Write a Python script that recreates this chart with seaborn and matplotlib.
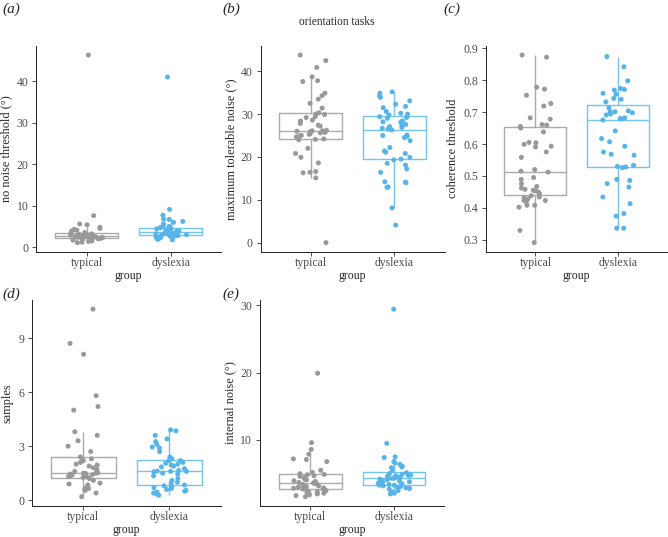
import numpy as np
import pandas as pd
import matplotlib
matplotlib.use("Agg")
import matplotlib.pyplot as plt
import seaborn as sns

groups = ["typical", "dyslexia"]

a_typical = [46.3, 7.6, 5.6, 5.4, 4.8, 4.5, 4.3, 4.1, 3.9, 3.5, 3.4, 3.3, 3.2, 3.1, 3.0, 2.95,
             2.9, 2.85, 2.8, 2.7, 2.7, 2.65, 2.6, 2.55, 2.5, 2.45, 2.4, 2.4, 2.35, 2.3, 2.3, 2.2,
             2.1, 2.0, 1.9, 1.7, 1.5, 1.4, 1.2, 1.1]
a_dyslexia = [41.0, 9.1, 7.7, 6.8, 6.7, 6.2, 6.0, 5.6, 5.1, 5.0, 4.75, 4.7, 4.5, 4.4, 4.3, 4.2,
              4.0, 3.9, 3.8, 3.7, 3.6, 3.6, 3.5, 3.4, 3.35, 3.3, 3.2, 3.1, 3.0, 2.95, 2.9, 2.85,
              2.8, 2.7, 2.6, 2.5, 2.4, 2.3, 2.2, 2.0, 1.9, 1.8]

b_typical = [43.8, 42.5, 40.9, 38.7, 37.8, 37.6, 34.9, 34.3, 33.5, 32.5, 31.4, 30.3, 30.0, 29.9,
             29.4, 29.2, 28.6, 28.4, 27.8, 27.4, 27.2, 26.2, 26.1, 26.1, 26.0, 25.9, 25.7, 25.6,
             25.4, 25.3, 25.0, 24.9, 24.7, 24.2, 24.1, 24.0, 22.0, 20.8, 19.9, 18.6, 16.6, 16.4,
             16.3, 15.1, 0.0]
b_dyslexia = [35.2, 34.9, 34.3, 33.9, 33.1, 32.3, 31.8, 31.5, 30.6, 30.2, 30.0, 29.8, 29.4, 29.2,
              29.0, 28.4, 28.2, 28.1, 27.6, 27.3, 27.1, 26.9, 26.7, 26.5, 26.3, 25.1, 25.0, 24.8,
              24.5, 23.8, 22.2, 21.4, 21.1, 20.8, 19.9, 19.5, 19.3, 18.5, 18.1, 17.2, 16.4, 14.2,
              14.1, 14.0, 13.0, 12.9, 8.1, 4.1]

c_typical = [0.879, 0.872, 0.778, 0.772, 0.753, 0.727, 0.719, 0.682, 0.678, 0.661, 0.659, 0.655,
             0.650, 0.638, 0.605, 0.604, 0.599, 0.593, 0.591, 0.575, 0.558, 0.520, 0.515, 0.512,
             0.495, 0.489, 0.475, 0.467, 0.462, 0.458, 0.455, 0.453, 0.450, 0.445, 0.438, 0.434,
             0.431, 0.428, 0.423, 0.423, 0.418, 0.408, 0.408, 0.402, 0.329, 0.291]
c_dyslexia = [0.874, 0.842, 0.798, 0.774, 0.771, 0.769, 0.759, 0.756, 0.743, 0.740, 0.732, 0.713,
              0.704, 0.701, 0.701, 0.698, 0.694, 0.691, 0.682, 0.680, 0.678, 0.675, 0.641, 0.617,
              0.607, 0.593, 0.575, 0.568, 0.565, 0.533, 0.530, 0.528, 0.526, 0.489, 0.486, 0.476,
              0.465, 0.434, 0.413, 0.382, 0.374, 0.336, 0.336]

d_typical = [10.6, 8.7, 8.1, 5.8, 5.2, 5.0, 3.8, 3.6, 3.3, 3.0, 2.7, 2.4, 2.3, 2.25, 2.2, 2.1,
             2.0, 1.95, 1.9, 1.8, 1.7, 1.6, 1.52, 1.5, 1.5, 1.48, 1.45, 1.42, 1.4, 1.38, 1.35,
             1.32, 1.3, 1.26, 1.2, 1.1, 0.95, 0.9, 0.85, 0.7, 0.65, 0.6, 0.55, 0.4, 0.2]
d_dyslexia = [3.9, 3.85, 3.6, 3.4, 3.25, 3.1, 2.95, 2.9, 2.7, 2.4, 2.3, 2.2, 2.2, 2.1, 2.05, 2.0,
              1.95, 1.9, 1.85, 1.75, 1.65, 1.62, 1.6, 1.6, 1.58, 1.5, 1.45, 1.35, 1.2, 1.1, 1.0,
              0.95, 0.84, 0.8, 0.75, 0.7, 0.65, 0.6, 0.55, 0.5, 0.45, 0.4, 0.35, 0.28]

e_typical = [19.9, 9.6, 8.6, 7.9, 7.2, 7.1, 6.8, 5.5, 5.2, 5.0, 4.9, 4.85, 4.7, 4.6, 4.4, 4.2,
             4.1, 3.95, 3.85, 3.7, 3.62, 3.6, 3.5, 3.4, 3.3, 3.2, 3.1, 3.0, 2.9, 2.85, 2.75, 2.72,
             2.65, 2.5, 2.4, 2.3, 2.2, 2.1, 2.0, 1.9, 1.75, 1.6]
e_dyslexia = [29.4, 9.5, 7.5, 7.4, 6.8, 6.6, 6.4, 6.1, 6.0, 5.9, 5.5, 5.15, 5.0, 4.9, 4.8, 4.75,
              4.7, 4.6, 4.5, 4.45, 4.35, 4.3, 4.3, 4.2, 4.1, 4.0, 3.9, 3.8, 3.7, 3.6, 3.5, 3.4,
              3.3, 3.3, 3.2, 3.1, 3.0, 2.9, 2.8, 2.7, 2.5, 2.3, 2.1, 2.0]

tags = ["(a)", "(b)", "(c)", "(d)", "(e)"]
ylabels = ["no noise threshold (°)", "maximum tolerable noise (°)", "coherence threshold",
           "samples", "internal noise (°)"]
yticks_list = [[0, 10, 20, 30, 40], [0, 10, 20, 30, 40],
               [0.3, 0.4, 0.5, 0.6, 0.7, 0.8, 0.9], [0, 3, 6, 9], [10, 20, 30]]
title = "orientation tasks"

sns.set_style("ticks")
plt.rcParams["font.family"] = ["Liberation Serif", "DejaVu Serif"]

W, H = 668, 537
fig = plt.figure(figsize=(W / 100, H / 100), dpi=100)

point_pal = {"typical": "#999999", "dyslexia": "#56B4E9"}
box_pal = {"typical": "#ABABAB", "dyslexia": "#74C4F0"}

series = [(a_typical, a_dyslexia), (b_typical, b_dyslexia), (c_typical, c_dyslexia),
          (d_typical, d_dyslexia), (e_typical, e_dyslexia)]
# axes boxes in pixels: left, top, right, bottom
boxes = [(36.3, 45.6, 221, 252), (260.5, 45.6, 444.5, 252), (485.9, 45.6, 667.5, 252),
         (31.7, 299.8, 221, 506), (259.6, 299.8, 444.4, 506)]
tagpos = [(2, 9), (222, 9), (443, 9), (2, 294), (222, 294)]

np.random.seed(3)
for i, ((typ, dys), (l, t, r, b)) in enumerate(zip(series, boxes)):
    df = pd.DataFrame({"group": ["typical"] * len(typ) + ["dyslexia"] * len(dys),
                       "value": list(typ) + list(dys)})
    ax = fig.add_axes([l / W, 1 - b / H, (r - l) / W, (b - t) / H])
    sns.boxplot(data=df, x="group", y="value", hue="group", order=groups, hue_order=groups,
                palette=box_pal, fill=False, showfliers=False, width=0.75, linewidth=1.0,
                whis=1.5, legend=False, ax=ax, capprops={"visible": False})
    sns.stripplot(data=df, x="group", y="value", hue="group", order=groups, hue_order=groups,
                  palette=point_pal, jitter=0.2, size=3.6, legend=False, ax=ax, zorder=3)
    ax.set_xlim(-0.6, 1.6)
    ax.set_yticks(yticks_list[i])
    ax.set_xlabel("group", fontsize=8.5, labelpad=0.2)
    ax.set_ylabel(ylabels[i], fontsize=8.8, labelpad=3)
    ax.tick_params(axis="both", labelsize=8.5, length=3, width=0.6,
                   color="#333333", labelcolor="#4D4D4D")
    ax.tick_params(axis="y", pad=2.5)
    ax.tick_params(axis="x", pad=0.8)
    for s in ["top", "right"]:
        ax.spines[s].set_visible(False)
    for s in ["left", "bottom"]:
        ax.spines[s].set_linewidth(0.7)
        ax.spines[s].set_color("#222222")
    fig.text(tagpos[i][0] / W, 1 - tagpos[i][1] / H, tags[i], fontsize=11,
             fontstyle="italic", ha="left", va="center")

fig.text(337 / W, 1 - 22 / H, title, fontsize=8.3, ha="center", va="center")

fig.savefig("out.png", dpi=100)
